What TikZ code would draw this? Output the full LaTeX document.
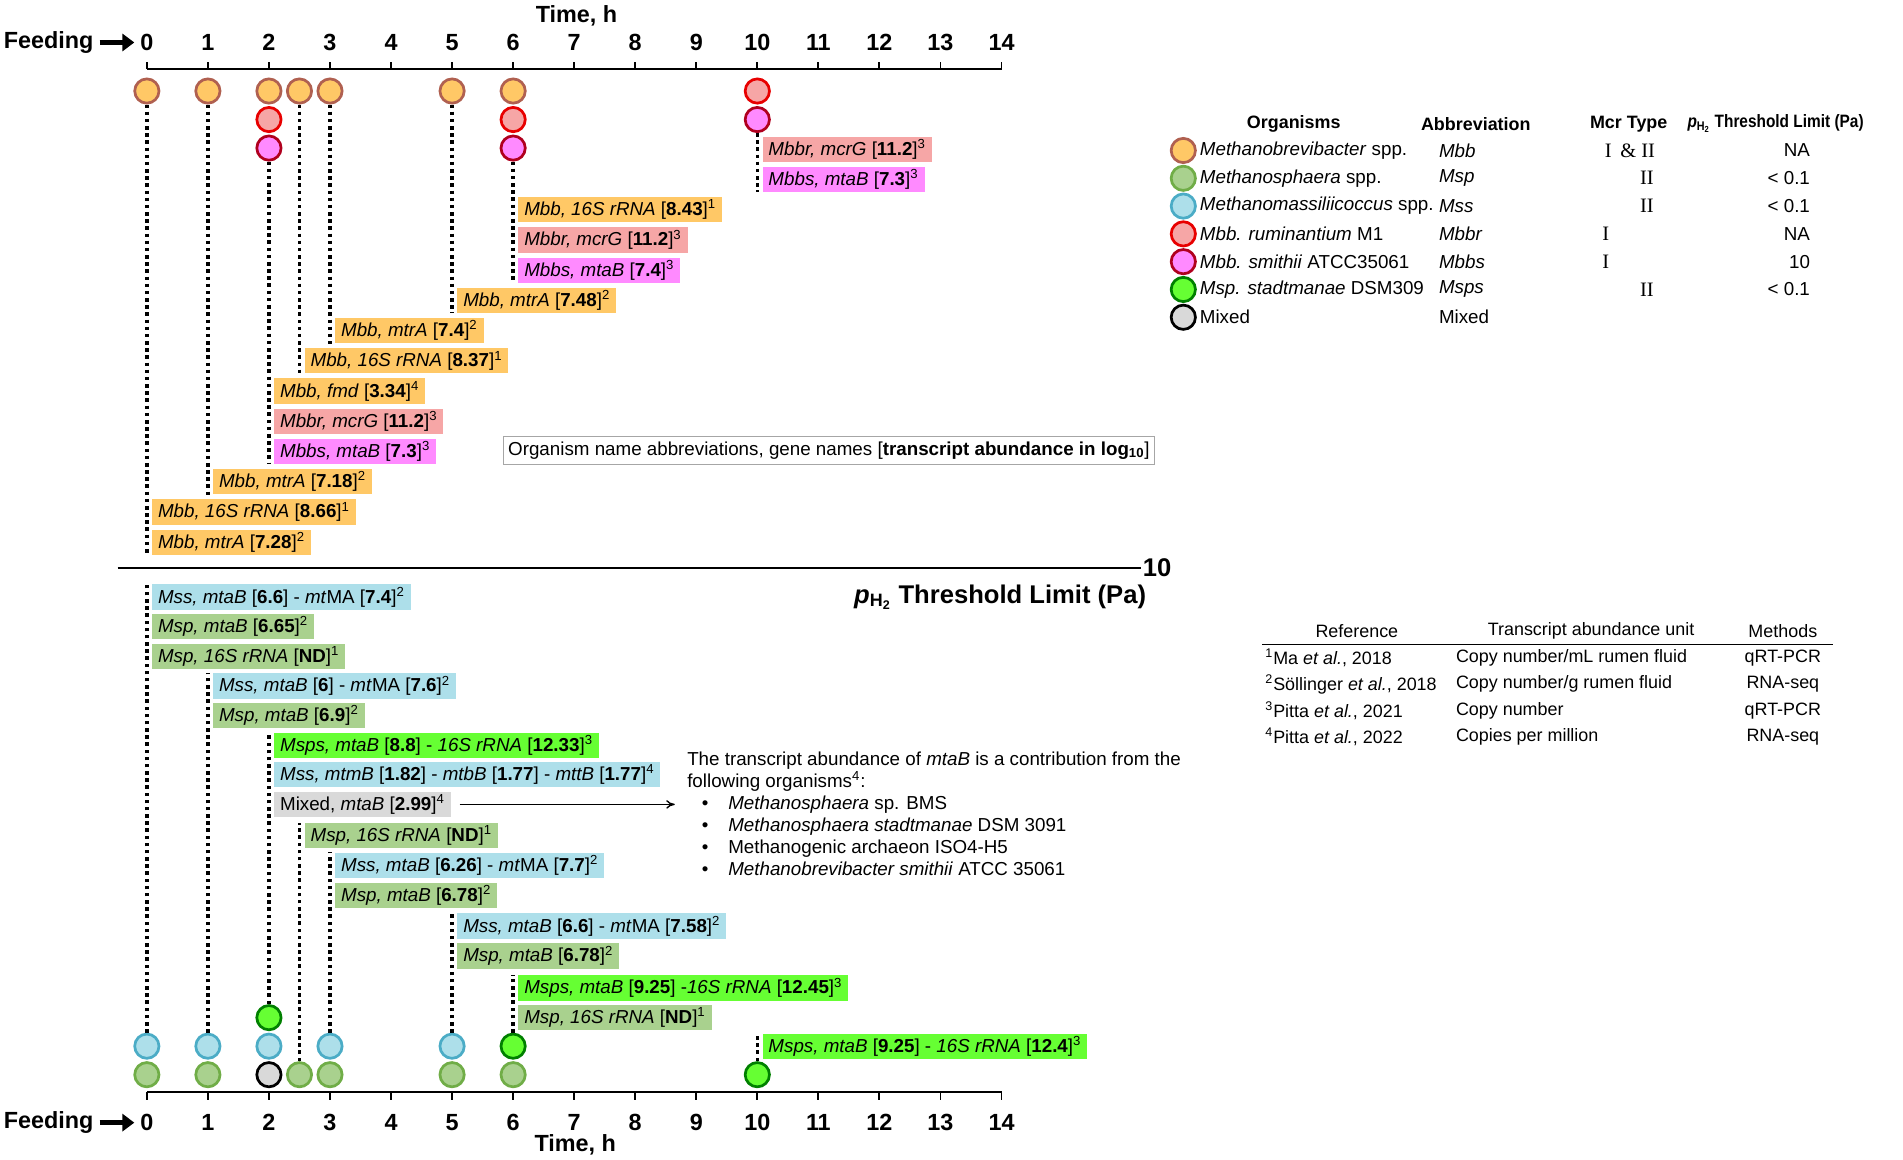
\documentclass[tikz,border=0pt]{standalone}
\usepackage{fontspec}
\usepackage{graphicx}
\setmainfont{Liberation Sans}
\newfontfamily\mcrfont{Liberation Serif}
\usetikzlibrary{arrows.meta}

\definecolor{mbbfill}{RGB}{255,200,102}
\definecolor{mbbline}{RGB}{176,96,80}
\definecolor{mbbrfill}{RGB}{246,166,166}
\definecolor{mbbrline}{RGB}{232,0,0}
\definecolor{mbbsfill}{RGB}{255,138,255}
\definecolor{mbbsline}{RGB}{176,0,30}
\definecolor{mspfill}{RGB}{169,209,142}
\definecolor{mspline}{RGB}{112,173,71}
\definecolor{mssfill}{RGB}{173,223,234}
\definecolor{mssline}{RGB}{75,172,198}
\definecolor{mspsfill}{RGB}{102,255,51}
\definecolor{mspsline}{RGB}{0,128,0}
\definecolor{mixfill}{RGB}{217,217,217}

\newcommand{\hx}[1]{121+50.3*#1}
\newcommand{\ab}[1]{[\textbf{#1}]}
\newcommand{\rf}[1]{\textsuperscript{#1}}
\newcommand{\itm}{\makebox[15.5pt][l]{\textbullet}}

\tikzset{
  org/.style={circle,minimum size=0.5cm,inner sep=0pt,line width=1.6pt},
  mbb/.style={org,fill=mbbfill,draw=mbbline},
  mbbr/.style={org,fill=mbbrfill,draw=mbbrline},
  mbbs/.style={org,fill=mbbsfill,draw=mbbsline},
  msp/.style={org,fill=mspfill,draw=mspline},
  mss/.style={org,fill=mssfill,draw=mssline},
  msps/.style={org,fill=mspsfill,draw=mspsline},
  mix/.style={org,fill=mixfill,draw=black},
  genebar/.style={anchor=west,fill=#1,inner xsep=3.5pt,inner ysep=0pt,
    minimum height=0.52cm,font=\fontsize{11}{13}\selectfont},
  dropline/.style={line width=2.1pt,dash pattern=on 2.1pt off 2.1pt},
  axisline/.style={line width=1.1pt},
  axislabel/.style={font=\fontsize{13.7}{15}\selectfont\bfseries},
  tabtext/.style={font=\fontsize{10.5}{12}\selectfont,inner sep=1pt},
  orgtext/.style={font=\fontsize{11}{12}\selectfont,inner sep=1pt},
  tabhead/.style={font=\fontsize{10.5}{12}\selectfont\bfseries,inner sep=1pt},
  feedarrow/.style={line width=3pt,-{Triangle[length=7pt,width=10pt]}},
  pointer/.style={line width=0.8pt,-{To[length=5pt,width=5pt]}},
}

\begin{document}
\begin{tikzpicture}[x=0.025cm,y=-0.025cm]
\useasboundingbox (0,0) rectangle (1568,955);

% time axis, top
\node[axislabel] (timetop) at (475,13) {Time, h};
\draw[axisline] ({\hx{0}},57) -- ({\hx{14}},57);
\foreach \h in {0,...,14}{
  \draw[axisline] ({\hx{\h}},57) -- ({\hx{\h}},51);
  \node[axislabel] (top\h) at ({\hx{\h}},35) {\h};
}
\node[axislabel,anchor=east] (feedtop) at (82,35) {Feeding};
\draw[feedarrow] (feedtop.east) -- (top0.west);

% organisms sampled, top half
\foreach \n/\t/\r/\s in {a/0/1/mbb,b/1/1/mbb,c/2/1/mbb,d/2/2/mbbr,e/2/3/mbbs,f/2.5/1/mbb,
  g/3/1/mbb,h/5/1/mbb,i/6/1/mbb,j/6/2/mbbr,k/6/3/mbbs,l/10/1/mbbr,m/10/2/mbbs}
  \node[\s] (ot\n) at ({\hx{\t}},{51.5+23.5*\r}) {};

\node[genebar=mbbrfill] (b10a) at ({\hx{10}+4},123) {\textit{Mbbr, mcrG} \ab{11.2}\rf{3}};
\node[genebar=mbbsfill] (b10b) at ({\hx{10}+4},147.9) {\textit{Mbbs, mtaB} \ab{7.3}\rf{3}};
\node[genebar=mbbfill] (b6a) at ({\hx{6}+4},172.8) {\textit{Mbb, 16S rRNA} \ab{8.43}\rf{1}};
\node[genebar=mbbrfill] (b6b) at ({\hx{6}+4},197.7) {\textit{Mbbr, mcrG} \ab{11.2}\rf{3}};
\node[genebar=mbbsfill] (b6c) at ({\hx{6}+4},222.6) {\textit{Mbbs, mtaB} \ab{7.4}\rf{3}};
\node[genebar=mbbfill] (b5a) at ({\hx{5}+4},247.5) {\textit{Mbb, mtrA} \ab{7.48}\rf{2}};
\node[genebar=mbbfill] (b3a) at ({\hx{3}+4},272.4) {\textit{Mbb, mtrA} \ab{7.4}\rf{2}};
\node[genebar=mbbfill] (b25a) at ({\hx{2.5}+4},297.3) {\textit{Mbb, 16S rRNA} \ab{8.37}\rf{1}};
\node[genebar=mbbfill] (b2a) at ({\hx{2}+4},322.2) {\textit{Mbb, fmd} \ab{3.34}\rf{4}};
\node[genebar=mbbrfill] (b2b) at ({\hx{2}+4},347.1) {\textit{Mbbr, mcrG} \ab{11.2}\rf{3}};
\node[genebar=mbbsfill] (b2c) at ({\hx{2}+4},372) {\textit{Mbbs, mtaB} \ab{7.3}\rf{3}};
\node[genebar=mbbfill] (b1a) at ({\hx{1}+4},396.9) {\textit{Mbb, mtrA} \ab{7.18}\rf{2}};
\node[genebar=mbbfill] (b0a) at ({\hx{0}+4},421.8) {\textit{Mbb, 16S rRNA} \ab{8.66}\rf{1}};
\node[genebar=mbbfill] (b0b) at ({\hx{0}+4},446.7) {\textit{Mbb, mtrA} \ab{7.28}\rf{2}};

\draw[dropline] (ota.south) -- (ota.south |- b0b.south);
\draw[dropline] (otb.south) -- (otb.south |- b1a.south);
\draw[dropline] (ote.south) -- (ote.south |- b2c.south);
\draw[dropline] (otf.south) -- (otf.south |- b25a.south);
\draw[dropline] (otg.south) -- (otg.south |- b3a.south);
\draw[dropline] (oth.south) -- (oth.south |- b5a.south);
\draw[dropline] (otk.south) -- (otk.south |- b6c.south);
\draw[dropline] (otm.south) -- (otm.south |- b10b.south);

\node[draw=gray!70,line width=0.6pt,inner sep=3pt,font=\fontsize{11}{13}\selectfont] (abbrbox)
  at (683,371) {Organism name abbreviations, gene names [\textbf{transcript abundance in log\textsubscript{10}}]};

% threshold line
\coordinate (sepstart) at (97,468);
\node[font=\fontsize{15}{17}\selectfont\bfseries,anchor=west,inner sep=1pt] (limit) at (940,468) {10};
\draw[line width=1.2pt] (sepstart) -- (limit.west);
\node[font=\fontsize{15}{17}\selectfont\bfseries,anchor=east,inner sep=1pt] (phtitle) at (946,492)
  {\textit{p}\textsubscript{H\textsubscript{2}} Threshold Limit (Pa)};

% bottom half
\node[genebar=mssfill] (c0a) at ({\hx{0}+4},492) {\textit{Mss, mtaB} \ab{6.6} - \textit{mt}MA \ab{7.4}\rf{2}};
\node[genebar=mspfill] (c0b) at ({\hx{0}+4},516.4) {\textit{Msp, mtaB} \ab{6.65}\rf{2}};
\node[genebar=mspfill] (c0c) at ({\hx{0}+4},540.8) {\textit{Msp, 16S rRNA} \ab{ND}\rf{1}};
\node[genebar=mssfill] (c1a) at ({\hx{1}+4},565.2) {\textit{Mss, mtaB} \ab{6} - \textit{mt}MA \ab{7.6}\rf{2}};
\node[genebar=mspfill] (c1b) at ({\hx{1}+4},589.6) {\textit{Msp, mtaB} \ab{6.9}\rf{2}};
\node[genebar=mspsfill] (c2a) at ({\hx{2}+4},614) {\textit{Msps, mtaB} \ab{8.8} - \textit{16S rRNA} \ab{12.33}\rf{3}};
\node[genebar=mssfill] (c2b) at ({\hx{2}+4},638.4) {\textit{Mss, mtmB} \ab{1.82} - \textit{mtbB} \ab{1.77} - \textit{mttB} \ab{1.77}\rf{4}};
\node[genebar=mixfill] (c2c) at ({\hx{2}+4},662.8) {Mixed, \textit{mtaB} \ab{2.99}\rf{4}};
\node[genebar=mspfill] (c25a) at ({\hx{2.5}+4},688.4) {\textit{Msp, 16S rRNA} \ab{ND}\rf{1}};
\node[genebar=mssfill] (c3a) at ({\hx{3}+4},713) {\textit{Mss, mtaB} \ab{6.26} - \textit{mt}MA \ab{7.7}\rf{2}};
\node[genebar=mspfill] (c3b) at ({\hx{3}+4},737.6) {\textit{Msp, mtaB} \ab{6.78}\rf{2}};
\node[genebar=mssfill] (c5a) at ({\hx{5}+4},763) {\textit{Mss, mtaB} \ab{6.6} - \textit{mt}MA \ab{7.58}\rf{2}};
\node[genebar=mspfill] (c5b) at ({\hx{5}+4},787.6) {\textit{Msp, mtaB} \ab{6.78}\rf{2}};
\node[genebar=mspsfill] (c6a) at ({\hx{6}+4},814) {\textit{Msps, mtaB} \ab{9.25} -\textit{16S rRNA} \ab{12.45}\rf{3}};
\node[genebar=mspfill] (c6b) at ({\hx{6}+4},838.6) {\textit{Msp, 16S rRNA} \ab{ND}\rf{1}};
\node[genebar=mspsfill] (c10a) at ({\hx{10}+4},862) {\textit{Msps, mtaB} \ab{9.25} - \textit{16S rRNA} \ab{12.4}\rf{3}};

\foreach \n/\t/\y/\s in {a/0/862/mss,b/0/885.5/msp,c/1/862/mss,d/1/885.5/msp,e/2/838.5/msps,
  f/2/862/mss,g/2/885.5/mix,h/2.5/885.5/msp,i/3/862/mss,j/3/885.5/msp,k/5/862/mss,
  l/5/885.5/msp,m/6/862/msps,n/6/885.5/msp,o/10/885.5/msps}
  \node[\s] (ob\n) at ({\hx{\t}},\y) {};

\draw[dropline] (oba.north) -- (oba.north |- c0a.north);
\draw[dropline] (obc.north) -- (obc.north |- c1a.north);
\draw[dropline] (obe.north) -- (obe.north |- c2a.north);
\draw[dropline] (obh.north) -- (obh.north |- c25a.north);
\draw[dropline] (obi.north) -- (obi.north |- c3a.north);
\draw[dropline] (obk.north) -- (obk.north |- c5a.north);
\draw[dropline] (obm.north) -- (obm.north |- c6a.north);
\draw[dropline] (obo.north) -- (obo.north |- c10a.north);

% note on mixed mtaB
\node[anchor=base west,inner sep=0pt,align=left,font=\fontsize{11}{12.8}\selectfont] (note)
  at (566,649) {The transcript abundance of \textit{mtaB} is a contribution from the\\following organisms\rf{4}:};
\node[anchor=base west,inner sep=0pt,align=left,font=\fontsize{11}{12.8}\selectfont] (notelist)
  at (578,721) {\itm\textit{Methanosphaera} sp. BMS\\
  \itm\textit{Methanosphaera stadtmanae} DSM 3091\\
  \itm Methanogenic archaeon ISO4-H5\\
  \itm\textit{Methanobrevibacter smithii} ATCC 35061};
\coordinate (mixtip) at (556,662.8);
\draw[pointer] ([xshift=5pt]c2c.east) -- (mixtip);

% time axis, bottom
\draw[axisline] ({\hx{0}},900) -- ({\hx{14}},900);
\foreach \h in {0,...,14}{
  \draw[axisline] ({\hx{\h}},900) -- ({\hx{\h}},906);
  \node[axislabel] (bot\h) at ({\hx{\h}},925) {\h};
}
\node[axislabel,anchor=east] (feedbot) at (82,925) {Feeding};
\draw[feedarrow] (feedbot.east) -- (bot0.west);
\node[axislabel] (timebot) at (474,943) {Time, h};

% organism legend
\node[tabhead] (hdorg) at (1066,102) {Organisms};
\node[tabhead] (hdabb) at (1216,102) {Abbreviation};
\node[tabhead] (hdmcr) at (1342,102) {Mcr Type};
\node[tabhead] (hdlim) at (1463,102)
  {\scalebox{0.86}[1]{\textit{p}\textsubscript{H\textsubscript{2}} Threshold Limit (Pa)}};
\foreach \s/\org/\abb/\mx/\mcr/\lim [count=\i from 0] in {
  mbb/{\textit{Methanobrevibacter} spp.}/Mbb/1343/{I \,\& II}/NA,
  msp/{\textit{Methanosphaera} spp.}/Msp/1357/II/{< 0.1},
  mss/{\textit{Methanomassiliicoccus} spp.}/Mss/1357/II/{< 0.1},
  mbbr/{\textit{Mbb. ruminantium} M1}/Mbbr/1323/I/NA,
  mbbs/{\textit{Mbb. smithii} ATCC35061}/Mbbs/1323/I/10,
  msps/{\textit{Msp. stadtmanae} DSM309}/Msps/1357/II/{< 0.1}}{
  \node[\s] (lc\i) at (975,{124+22.9*\i}) {};
  \node[orgtext,anchor=west] (lo\i) at (987,{124+22.9*\i}) {\org};
  \node[orgtext,anchor=west] (la\i) at (1184,{124+22.9*\i}) {\textit{\abb}};
  \node[orgtext,font=\fontsize{12}{13}\mcrfont] (lm\i) at (\mx,{124+22.9*\i}) {\mcr};
  \node[orgtext,anchor=east] (lp\i) at (1493,{124+22.9*\i}) {\lim};
}
\node[mix] (lc6) at (975,261.4) {};
\node[orgtext,anchor=west] (lo6) at (987,261.4) {Mixed};
\node[orgtext,anchor=west] (la6) at (1184,261.4) {Mixed};

% reference table
\node[tabtext] (rhref) at (1118,520) {Reference};
\node[tabtext] (rhunit) at (1311,520) {Transcript abundance unit};
\node[tabtext] (rhmeth) at (1469,520) {Methods};
\draw[line width=0.8pt] (1040,531) -- (1510,531);
\foreach \r/\u/\m [count=\i from 0] in {
  {\rf{1}Ma \textit{et al.}, 2018}/{Copy number/mL rumen fluid}/qRT-PCR,
  {\rf{2}Söllinger \textit{et al.}, 2018}/{Copy number/g rumen fluid}/RNA-seq,
  {\rf{3}Pitta \textit{et al.}, 2021}/{Copy number}/qRT-PCR,
  {\rf{4}Pitta \textit{et al.}, 2022}/{Copies per million}/RNA-seq}{
  \node[tabtext,anchor=west] (rr\i) at (1041,{542+21.8*\i}) {\r};
  \node[tabtext,anchor=west] (ru\i) at (1198,{542+21.8*\i}) {\u};
  \node[tabtext] (rm\i) at (1469,{542+21.8*\i}) {\m};
}
\end{tikzpicture}
\end{document}
